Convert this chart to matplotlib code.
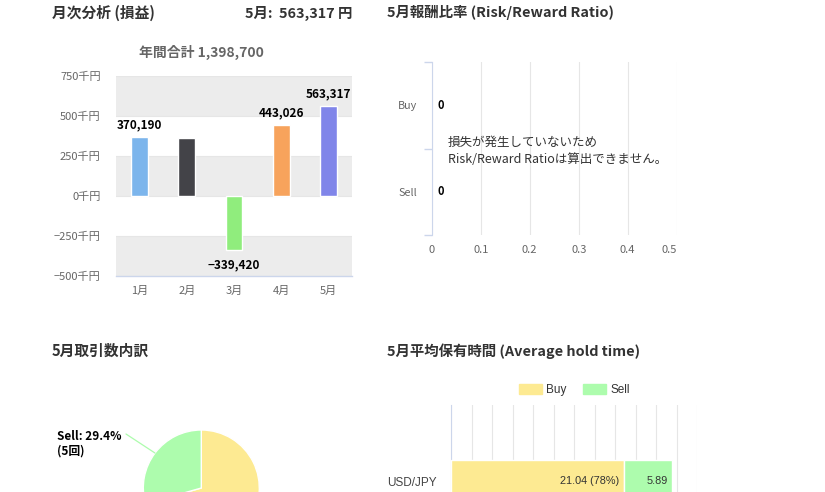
import matplotlib

matplotlib.use("Agg")
import matplotlib.pyplot as plt
import numpy as np
from matplotlib.patches import Patch

plt.rcParams["font.family"] = ["Noto Sans CJK JP", "DejaVu Sans"]
plt.rcParams["axes.unicode_minus"] = False

# --- data -------------------------------------------------------------
months = ["1月", "2月", "3月", "4月", "5月"]
monthly_pl = [370190, 361587, -339420, 443026, 563317]
show_label = [True, False, True, True, True]
annual_total = 1398700
current_month = "5月"
current_pl = 563317
pl_ticks = [-500000, -250000, 0, 250000, 500000, 750000]

rr_sides = ["Buy", "Sell"]
rr_values = [0, 0]
rr_ticks = [0, 0.1, 0.2, 0.3, 0.4, 0.5]
rr_message = ["損失が発生していないため", "Risk/Reward Ratioは算出できません。"]

trade_sides = ["Buy", "Sell"]
trade_counts = [12, 5]

hold_pairs = ["USD/JPY"]
hold_buy = [21.04]
hold_sell = [5.89]

# --- style ------------------------------------------------------------
BAR_COLORS = ["#7cb5ec", "#434348", "#90ed7d", "#f7a35c", "#8085e9"]
BUY_COLOR = "#fdea92"
SELL_COLOR = "#adfcad"
AXIS_LINE = "#ccd6eb"
GRID = "#e6e6e6"
BAND = "#ececec"
TICK_TEXT = "#666666"
TITLE_TEXT = "#333333"

W, H = 825, 492
fig = plt.figure(figsize=(W / 100, H / 100), dpi=100)


def px_axes(left, top, right, bottom):
    return fig.add_axes([left / W, 1 - bottom / H, (right - left) / W, (bottom - top) / H])


def px_text(x, y, s, **kw):
    return fig.text(x / W, 1 - y / H, s, **kw)


# --- panel 1: monthly P/L ----------------------------------------------
px_text(52, 13, "月次分析 (損益)", fontsize=10.6, fontweight="bold", color=TITLE_TEXT, va="center")
px_text(352, 13, f"{current_month}:  {current_pl:,} 円", fontsize=10.4, fontweight="bold",
        color=TITLE_TEXT, va="center", ha="right")
px_text(201, 52, f"年間合計 {annual_total:,}", fontsize=10, fontweight="bold", color=TICK_TEXT,
        va="center", ha="center")

ax1 = px_axes(116, 76, 352, 276)
x = np.arange(len(months))
ax1.set_xlim(-0.5, len(months) - 0.5)
ax1.set_ylim(pl_ticks[0], pl_ticks[-1])
for lo, hi in zip(pl_ticks[:-1], pl_ticks[1:]):
    if pl_ticks.index(lo) % 2 == 0:
        ax1.axhspan(lo, hi, color=BAND, lw=0, zorder=0)
for t in pl_ticks[1:]:
    ax1.axhline(t, color=GRID, lw=0.8, zorder=1)
ax1.bar(x, monthly_pl, width=0.36, color=BAR_COLORS, edgecolor="white", linewidth=1, zorder=3)
for xi, v, show in zip(x, monthly_pl, show_label):
    if not show:
        continue
    ax1.annotate(f"{v:,}".replace("-", "−"), (xi, v), xytext=(0, 4 if v > 0 else -6),
                 textcoords="offset points", ha="center", va="bottom" if v > 0 else "top",
                 fontsize=8.5, fontweight="bold", color="black", zorder=4)
ax1.set_xticks(x, months)
ax1.set_yticks(pl_ticks, [f"{t // 1000}千円".replace("-", "−") for t in pl_ticks])
ax1.tick_params(axis="both", length=0, labelsize=8, labelcolor=TICK_TEXT)
ax1.tick_params(axis="x", pad=7)
ax1.tick_params(axis="y", pad=11)
for side in ["top", "right", "left"]:
    ax1.spines[side].set_visible(False)
ax1.spines["bottom"].set_color(AXIS_LINE)
ax1.spines["bottom"].set_linewidth(1)

# --- panel 2: risk / reward ratio -------------------------------------
px_text(387, 13, f"{current_month}報酬比率 (Risk/Reward Ratio)", fontsize=10.4, fontweight="bold",
        color=TITLE_TEXT, va="center")
ax2 = px_axes(431.7, 61.7, 676.7, 235.3)
y2 = np.arange(len(rr_sides))
ax2.barh(y2, rr_values, height=0.6, color="#7cb5ec")
ax2.set_xlim(rr_ticks[0], rr_ticks[-1])
ax2.set_ylim(len(rr_sides) - 0.5, -0.5)
ax2.set_xticks(rr_ticks, [f"{t:g}" for t in rr_ticks])
ax2.get_xticklabels()[-1].set_horizontalalignment("right")
ax2.grid(axis="x", color=GRID, lw=0.8)
ax2.set_axisbelow(True)
ax2.set_yticks(y2, rr_sides)
ax2.set_yticks(np.arange(len(rr_sides) + 1) - 0.5, minor=True)
ax2.tick_params(axis="y", which="major", length=0, pad=10.5, labelsize=7.8, labelcolor=TICK_TEXT)
ax2.tick_params(axis="y", which="minor", length=6, width=1, color=AXIS_LINE)
ax2.tick_params(axis="x", length=0, pad=7, labelsize=8, labelcolor=TICK_TEXT)
for side in ["top", "right", "bottom"]:
    ax2.spines[side].set_visible(False)
ax2.spines["left"].set_color(AXIS_LINE)
for yi, v in zip(y2, rr_values):
    ax2.annotate(f"{v}", (v, yi), xytext=(4, 0), textcoords="offset points", ha="left",
                 va="center", fontsize=8, fontweight="bold", color="black")
px_text(447.7, 142, rr_message[0], fontsize=9, color=TITLE_TEXT, va="center")
px_text(447.7, 159, rr_message[1], fontsize=9, color=TITLE_TEXT, va="center")

# --- panel 3: trade count breakdown -----------------------------------
px_text(52, 351, f"{current_month}取引数内訳", fontsize=10.6, fontweight="bold", color=TITLE_TEXT,
        va="center")
ax3 = px_axes(143.3, 430, 259.3, 546)
ax3.pie(trade_counts, colors=[BUY_COLOR, SELL_COLOR], startangle=90, counterclock=False,
        wedgeprops=dict(edgecolor="white", linewidth=1))
ax3.set_xlim(-1, 1)
ax3.set_ylim(-1, 1)
ax3.set_aspect("equal")
total = sum(trade_counts)
start = 90 - 360 * trade_counts[0] / total
mid = np.deg2rad(start - 360 * trade_counts[1] / total / 2)
pct = 100 * trade_counts[1] / total
px_text(57, 436, f"{trade_sides[1]}: {pct:.1f}%", fontsize=8.5, fontweight="bold", color="black",
        va="center")
px_text(57, 451, f"({trade_counts[1]}回)", fontsize=8.5, fontweight="bold", color="black",
        va="center")
ax3.annotate("", xy=(np.cos(mid), np.sin(mid)), xytext=(126 / W, 1 - 434 / H),
             textcoords="figure fraction", annotation_clip=False,
             arrowprops=dict(arrowstyle="-", color=SELL_COLOR, lw=0.9, shrinkA=0, shrinkB=0))

# --- panel 4: average hold time ---------------------------------------
px_text(387, 351, f"{current_month}平均保有時間 (Average hold time)", fontsize=10.4,
        fontweight="bold", color=TITLE_TEXT, va="center")
ax4 = px_axes(451, 405, 697.3, 557)
y4 = np.arange(len(hold_pairs))
bar_h = 42 / 152
ax4.barh(y4, hold_buy, height=bar_h, color=BUY_COLOR, edgecolor="white", linewidth=1, zorder=3)
ax4.barh(y4, hold_sell, left=hold_buy, height=bar_h, color=SELL_COLOR, edgecolor="white",
         linewidth=1, zorder=3)
ax4.set_xlim(0, 30)
ax4.set_ylim(len(hold_pairs) - 0.5, -0.5)
ax4.set_xticks(np.arange(0, 30.1, 2.5))
ax4.grid(axis="x", color=GRID, lw=0.8)
ax4.set_axisbelow(True)
ax4.set_yticks(y4, hold_pairs)
ax4.tick_params(axis="y", length=0, pad=10, labelsize=8.5, labelcolor="#444444")
ax4.tick_params(axis="x", length=0, labelbottom=False)
for t in ax4.get_yticklabels():
    t.set_fontfamily(["Liberation Sans", "DejaVu Sans"])
for side in ["top", "right", "bottom"]:
    ax4.spines[side].set_visible(False)
ax4.spines["left"].set_color(AXIS_LINE)
lbl_kw = dict(textcoords="offset points", ha="right", va="center", fontsize=7.8,
              color="#333333", family=["Liberation Sans", "DejaVu Sans"], zorder=4)
for yi, b, s in zip(y4, hold_buy, hold_sell):
    tot = b + s
    ax4.annotate(f"{b:.2f} ({round(100 * b / tot)}%)", (b, yi), xytext=(-3.2, 0), **lbl_kw)
    ax4.annotate(f"{s:.2f}", (b + s, yi), xytext=(-2.8, 0), **lbl_kw)
    ax4.annotate(f"({round(100 * s / tot)}%)", (b + s, yi), xytext=(-2.8, -12), **lbl_kw)
handles = [Patch(color=BUY_COLOR, label="Buy"), Patch(color=SELL_COLOR, label="Sell")]
leg = fig.legend(handles=handles, loc="center", bbox_to_anchor=(574.5 / W, 1 - 390 / H),
                 ncol=2, frameon=False, borderpad=0, fontsize=8.5, handlelength=1.9,
                 handleheight=0.9, handletextpad=0.4, columnspacing=1.4)
for t in leg.get_texts():
    t.set_color("#333333")
    t.set_fontfamily(["Liberation Sans", "DejaVu Sans"])

fig.savefig("out.png", dpi=100)
